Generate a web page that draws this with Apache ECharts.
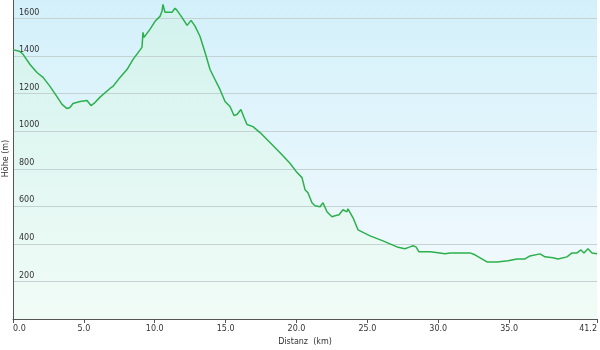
<!DOCTYPE html>
<html>
<head>
<meta charset="utf-8">
<title>Höhenprofil</title>
<script src="https://cdn.jsdelivr.net/npm/echarts@6/dist/echarts.min.js"></script>
<style>
  html, body { margin: 0; padding: 0; background: #fff; }
  #chart { width: 600px; height: 350px; }
</style>
</head>
<body>
<div id="chart"></div>
<script>
// Distanz in km
var distKm = [0.00, 0.49, 0.71, 1.20, 1.69, 2.12, 2.61, 3.10, 3.46, 3.81, 4.02, 4.23, 4.73, 5.22, 5.50, 5.78,
  6.14, 6.84, 7.05, 7.55, 8.04, 8.47, 9.10, 9.17, 9.24, 9.66, 10.02, 10.37, 10.51, 10.58, 10.72, 11.22,
  11.43, 11.57, 11.92, 12.28, 12.56, 12.84, 13.19, 13.55, 13.90, 14.25, 14.60, 14.96, 15.31, 15.59,
  15.80, 16.08, 16.30, 16.51, 16.93, 17.43, 18.13, 18.84, 19.54, 20.04, 20.39, 20.60, 20.81, 21.09,
  21.31, 21.66, 21.87, 22.15, 22.50, 22.72, 23.00, 23.28, 23.56, 23.63, 23.99, 24.34, 25.19, 26.10,
  27.09, 27.65, 28.01, 28.22, 28.43, 28.64, 28.71, 29.42, 30.12, 30.48, 30.83, 32.24, 32.59, 33.44,
  34.14, 34.92, 35.56, 36.12, 36.47, 37.18, 37.53, 38.10, 38.45, 39.08, 39.44, 39.79, 40.07, 40.28,
  40.56, 40.85, 41.20];
// Höhe in m
var elevM = [1435, 1425, 1410, 1356, 1313, 1287, 1239, 1185, 1143, 1121, 1127, 1148, 1159, 1164, 1137, 1153,
  1182, 1228, 1239, 1287, 1329, 1383, 1447, 1527, 1500, 1543, 1586, 1612, 1639, 1676, 1634, 1634,
  1655, 1644, 1607, 1564, 1591, 1560, 1506, 1420, 1329, 1276, 1223, 1159, 1132, 1084,
  1089, 1116, 1073, 1036, 1025, 993, 940, 886, 830, 780, 753, 689, 673, 619,
  603, 598, 619, 571, 545, 550, 555, 582, 571, 587, 539, 475, 443, 416,
  384, 374, 384, 390, 384, 358, 352, 358, 352, 347, 352, 352, 342, 304,
  304, 310, 320, 320, 336, 347, 331, 326, 320, 331, 352, 352, 368, 352,
  374, 352, 347];

var xLabels = [0, 5, 10, 15, 20, 25, 30, 35, 41.2];
var yLabels = [200, 400, 600, 800, 1000, 1200, 1400, 1600];

var font = 'DejaVu Sans';

var myChart = echarts.init(document.getElementById('chart'));

var points = distKm.map(function (d, i) { return [d, elevM[i]]; });

var option = {
  backgroundColor: '#ffffff',
  animation: false,
  grid: {
    left: 13, right: 3, top: -2, bottom: 31,
    containLabel: false,
    outerBoundsMode: 'none',
    show: true,
    borderWidth: 0,
    backgroundColor: new echarts.graphic.LinearGradient(0, 0, 0, 1, [
      { offset: 0, color: '#d3f0fa' },
      { offset: 1, color: '#f6fbfe' }
    ])
  },
  xAxis: {
    type: 'value',
    min: 0,
    max: 41.2,
    interval: 5,
    z: 10,
    name: 'Distanz  (km)',
    nameLocation: 'middle',
    nameGap: 19,
    nameMoveOverlap: false,
    nameTextStyle: { fontFamily: font, fontSize: 8, color: '#333' },
    axisLine: { lineStyle: { color: '#555', width: 1 } },
    axisTick: { show: true, length: 4, customValues: xLabels, lineStyle: { color: '#555' } },
    axisLabel: {
      customValues: xLabels,
      fontFamily: font, fontSize: 8, color: '#333', margin: 6,
      alignMinLabel: 'left', alignMaxLabel: 'right',
      formatter: function (v) { return v.toFixed(1); }
    },
    splitLine: { show: false }
  },
  yAxis: {
    type: 'value',
    min: 0,
    max: 1710,
    interval: 200,
    z: 10,
    name: 'Höhe (m)',
    nameLocation: 'middle',
    nameGap: 3,
    nameMoveOverlap: false,
    nameTextStyle: { fontFamily: font, fontSize: 8, color: '#333' },
    axisLine: { show: true, lineStyle: { color: '#555', width: 1 } },
    axisTick: { show: false },
    axisLabel: {
      inside: true,
      customValues: yLabels,
      margin: 6,
      verticalAlign: 'bottom',
      padding: [0, 0, 2, 0],
      fontFamily: font, fontSize: 8, color: '#333',
      formatter: function (v) { return String(v); }
    },
    splitLine: { show: true, lineStyle: { color: '#c5d2d2', width: 1 } }
  },
  series: [{
    // fill under the profile, below the grid lines
    type: 'line',
    data: points,
    symbol: 'none',
    z: 1,
    silent: true,
    lineStyle: { width: 0 },
    areaStyle: {
      color: new echarts.graphic.LinearGradient(0, 0, 0, 1, [
        { offset: 0, color: '#d2f3e8' },
        { offset: 1, color: '#effcf3' }
      ])
    }
  }, {
    // profile line on top
    type: 'line',
    data: points,
    symbol: 'none',
    z: 20,
    lineStyle: { color: '#2cb04c', width: 1.5 }
  }]
};

myChart.setOption(option);
</script>
</body>
</html>
